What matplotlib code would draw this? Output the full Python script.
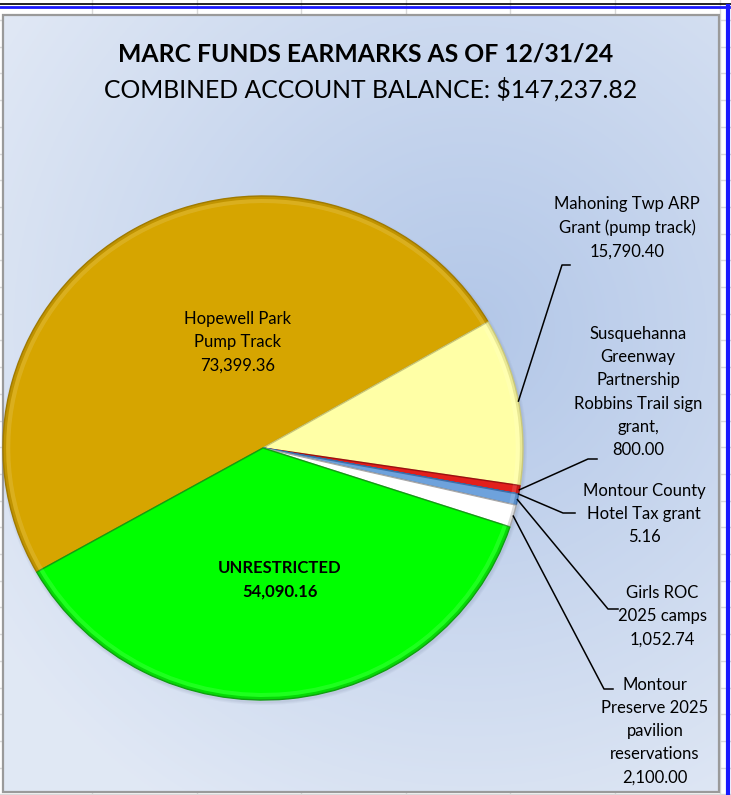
import numpy as np
import matplotlib.pyplot as plt
from matplotlib.patches import Wedge, Circle, Rectangle, Ellipse

plt.rcParams['font.family'] = ['Lato', 'DejaVu Sans']

W, H = 731, 795

# data
names = ["Hopewell Park\nPump Track", "Mahoning Twp ARP\nGrant (pump track)",
         "Susquehanna\nGreenway\nPartnership\nRobbins Trail sign\ngrant,",
         "Montour County\nHotel Tax grant", "Girls ROC\n2025 camps",
         "Montour\nPreserve 2025\npavilion\nreservations", "UNRESTRICTED"]
values = [73399.36, 15790.40, 800.00, 5.16, 1052.74, 2100.00, 54090.16]
colors = ["#d6a500", "#ffffa6", "#e2201c", "#4f81bd", "#6ea2dc", "#ffffff", "#00ff00"]
edges = ["#a07a00", "#c9c77a", "#9e1010", "#2f5f9f", "#3f70aa", "#a8a8a8", "#10a010"]
title = "MARC FUNDS EARMARKS AS OF 12/31/24"
subtitle = "COMBINED ACCOUNT BALANCE: $" + f"{sum(values):,.2f}"

# layout (pixel coords, y measured from top)
cx, cy, RX, RY = 263, 448, 260, 252
inside = {0: (238, 342), 6: (280, 580)}
# text centre, elbow start, elbow knee
outside = {1: ((627, 228), (570, 265), (562, 265)),
           2: ((638, 392), (597, 459), (588, 459)),
           3: ((644, 514), (575, 513), (563, 513)),
           4: ((662, 616), (618, 609), (608, 609)),
           5: ((655, 731), (613, 689), (604, 689))}

def Y(y):
    return H - y

fig = plt.figure(figsize=(W / 100, H / 100), dpi=100)
fig.patch.set_facecolor('white')
ax = fig.add_axes([0, 0, 1, 1])

# spreadsheet grid behind the chart
for x in np.arange(92, W, 104.6):
    ax.plot([x, x], [0, H], color='#d9d9d9', lw=1, zorder=0)
for y in np.arange(20, H, 26.7):
    ax.plot([0, W], [Y(y), Y(y)], color='#d9d9d9', lw=1, zorder=0)

# chart area with gradient fill
x0, x1, y0, y1 = 3, 719, 15, 792
gx, gy = np.meshgrid(np.linspace(x0, x1, 300), np.linspace(y0, y1, 300))
d = np.sqrt(((gx - 470) / 560) ** 2 + ((gy - 330) / 560) ** 2)
d = np.clip(d, 0, 1)
c_in = np.array([0.70, 0.78, 0.91])
c_out = np.array([0.88, 0.91, 0.96])
img = c_in[None, None, :] * (1 - d[..., None]) + c_out[None, None, :] * d[..., None]
ax.imshow(img, extent=[x0, x1, Y(y1), Y(y0)], origin='upper', zorder=1, aspect='auto')
ax.add_patch(Rectangle((x0, Y(y1)), x1 - x0, y1 - y0, fill=False,
                       edgecolor='#9a9a9a', lw=1.6, zorder=2))

# window selection lines
ax.plot([0, W], [Y(4), Y(4)], color='black', lw=1.2, zorder=3)
ax.plot([0, 729], [Y(6.5), Y(6.5)], color='#1a1aff', lw=2, zorder=3)
ax.plot([728, 728], [0, Y(6)], color='#1a1aff', lw=3, zorder=3)

# soft shadow
for k, a in enumerate([0.05, 0.05, 0.06]):
    ax.add_patch(Ellipse((cx + 1, Y(cy) - 2), 2 * (RX + 3 - k), 2 * (RY + 3 - k),
                         color='#506080', alpha=a, lw=0, zorder=3))
ax.set_xlim(0, W)
ax.set_ylim(0, H)
ax.axis('off')

# pie in its own axes (slightly wider than tall, as in the sheet)
axp = fig.add_axes([(cx - RX) / W, (H - cy - RY) / H, 2 * RX / W, 2 * RY / H])
wedges, _ = axp.pie(values, colors=colors, startangle=209.5, counterclock=False,
                    radius=1, wedgeprops=dict(linewidth=1.0))
for w, e in zip(wedges, edges):
    w.set_edgecolor(e)
    # bevel look: darker rim and light band inside
    axp.add_patch(Wedge(w.center, w.r, w.theta1, w.theta2, width=0.012,
                        color=e, alpha=0.4, lw=0, zorder=5))
    axp.add_patch(Wedge(w.center, w.r - 0.012, w.theta1, w.theta2, width=0.016,
                        color='white', alpha=0.12, lw=0, zorder=5))
axp.set_xlim(-1, 1)
axp.set_ylim(-1, 1)
axp.set_aspect('auto')
axp.axis('off')

# overlay for texts and leader lines
axt = fig.add_axes([0, 0, 1, 1])
axt.set_xlim(0, W)
axt.set_ylim(0, H)
axt.axis('off')

axt.text(366, Y(54), title, ha='center', va='center', fontsize=17.8, fontweight='bold')
axt.text(371, Y(89), subtitle, ha='center', va='center', fontsize=17.8)

for i, (tx, ty) in inside.items():
    bold = 'bold' if i == 6 else 'normal'
    axt.text(tx, Y(ty), names[i] + "\n" + f"{values[i]:,.2f}", ha='center', va='center',
             fontsize=12, fontweight=bold, linespacing=1.55)

for i, ((tx, ty), (ex, ey), (kx, ky)) in outside.items():
    w = wedges[i]
    mid = np.deg2rad((w.theta1 + w.theta2) / 2)
    px = cx + RX * np.cos(mid)
    py = Y(cy) + RY * np.sin(mid)
    axt.plot([px, kx, ex], [py, Y(ky), Y(ey)], color='black', lw=1.1)
    axt.text(tx, Y(ty), names[i] + "\n" + f"{values[i]:,.2f}", ha='center', va='center',
             fontsize=12, linespacing=1.55)

fig.savefig('out.png', dpi=100)
